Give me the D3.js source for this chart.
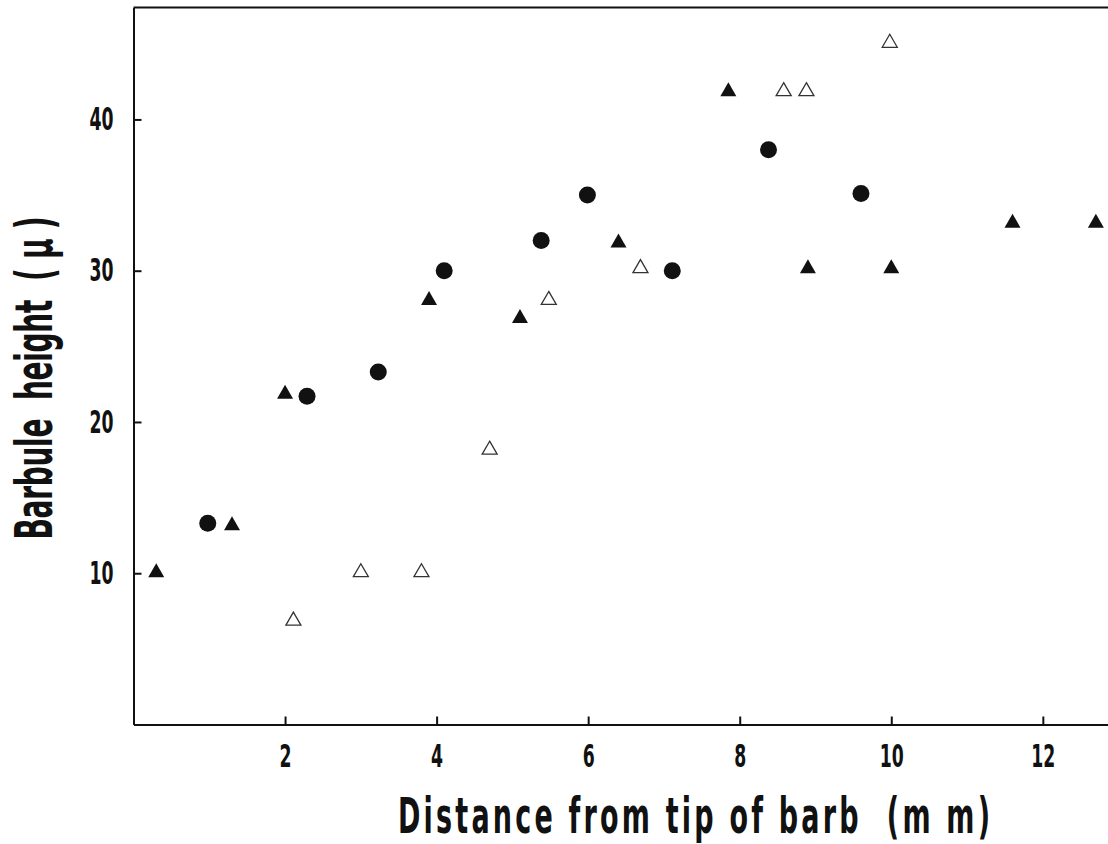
<!DOCTYPE html>
<html>
<head>
<meta charset="utf-8">
<script src="https://cdn.jsdelivr.net/npm/d3@7"></script>
<style>
  body { margin: 0; background: #fff; }
  svg { display: block; }
  .lbl { font-family: "DejaVu Sans Condensed", "DejaVu Sans", sans-serif; font-weight: bold; fill: #111; white-space: pre; }
</style>
</head>
<body>
<script>
// barbule data (x = mm from tip, y = height in micron)
var filledTriX = [0.3, 1.3, 2.0, 3.9, 5.1, 6.4, 7.85, 8.9, 10.0, 11.6, 12.7];
var filledTriY = [10.2, 13.3, 22.0, 28.2, 27.0, 32.0, 42.0, 30.3, 30.3, 33.3, 33.3];

var circleX = [0.98, 2.29, 3.23, 4.1, 5.38, 5.99, 7.11, 8.38, 9.6];
var circleY = [13.3, 21.7, 23.3, 30.0, 32.0, 35.0, 30.0, 38.0, 35.1];

var openTriX = [2.11, 3.0, 3.8, 4.7, 5.48, 6.69, 8.58, 8.88, 9.98];
var openTriY = [7.0, 10.2, 10.2, 18.3, 28.2, 30.3, 42.0, 42.0, 45.2];

var xTicks = [2, 4, 6, 8, 10, 12];
var yTicks = [10, 20, 30, 40];

var width = 1108, height = 844;

var svg = d3.select("body").append("svg")
	.attr("width", width)
	.attr("height", height);

var x = d3.scaleLinear().domain([0, 12.86]).range([133.5, 1108]);
var y = d3.scaleLinear().domain([0, 47.4]).range([724.5, 7.5]);

var sx = 0.6; // squeeze glyphs to look like condensed gothic

// axes, ticks pointing inward
var xAxis = svg.append("g")
	.attr("transform", "translate(0," + y(0) + ")")
	.call(d3.axisBottom(x).tickValues(xTicks).tickSizeInner(-8).tickSizeOuter(0).tickPadding(20));

var yAxis = svg.append("g")
	.attr("transform", "translate(" + x(0) + ",0)")
	.call(d3.axisLeft(y).tickValues(yTicks).tickSizeInner(-8).tickSizeOuter(0).tickPadding(20));

svg.selectAll(".domain, .tick line")
	.attr("stroke", "#111")
	.attr("stroke-width", 2);

svg.selectAll(".tick text")
	.attr("class", "lbl")
	.style("font-size", "32px")
	.attr("fill", "#111");

xAxis.selectAll(".tick text").attr("transform", "scale(" + sx + ",1)");
yAxis.selectAll(".tick text")
	.attr("x", -20 / sx)
	.attr("transform", "scale(" + sx + ",1)");

// top frame line
svg.append("line")
	.attr("x1", x(0)).attr("x2", width)
	.attr("y1", y(47.4)).attr("y2", y(47.4))
	.attr("stroke", "#111")
	.attr("stroke-width", 2);

// markers
function tri(w, h){
	return "M0," + (-h / 2) + "L" + (w / 2) + "," + (h / 2) + "L" + (-w / 2) + "," + (h / 2) + "Z";
}

svg.selectAll(".ftri")
	.data(d3.range(filledTriX.length))
	.enter()
	.append("path")
	.attr("class", "ftri")
	.attr("d", tri(16, 14))
	.attr("transform", function(i){ return "translate(" + x(filledTriX[i]) + "," + y(filledTriY[i]) + ")"; })
	.attr("fill", "#111");

svg.selectAll(".dot")
	.data(d3.range(circleX.length))
	.enter()
	.append("circle")
	.attr("class", "dot")
	.attr("cx", function(i){ return x(circleX[i]); })
	.attr("cy", function(i){ return y(circleY[i]); })
	.attr("r", 8.5)
	.attr("fill", "#111");

svg.selectAll(".otri")
	.data(d3.range(openTriX.length))
	.enter()
	.append("path")
	.attr("class", "otri")
	.attr("d", tri(15, 13))
	.attr("transform", function(i){ return "translate(" + x(openTriX[i]) + "," + y(openTriY[i]) + ")"; })
	.attr("fill", "none")
	.attr("stroke", "#333")
	.attr("stroke-width", 1.3);

// axis titles
svg.append("text")
	.attr("class", "lbl")
	.attr("transform", "translate(694,833) scale(" + sx + ",1)")
	.attr("text-anchor", "middle")
	.attr("textLength", 592 / sx)
	.attr("lengthAdjust", "spacing")
	.style("font-size", "50px")
	.text("Distance from tip of barb  (m m)");

svg.append("text")
	.attr("class", "lbl")
	.attr("transform", "translate(52,378) rotate(-90) scale(" + sx + ",1)")
	.attr("text-anchor", "middle")
	.attr("textLength", 323 / sx)
	.attr("lengthAdjust", "spacing")
	.style("font-size", "52px")
	.text("Barbule  height  ( μ )");
</script>
</body>
</html>
